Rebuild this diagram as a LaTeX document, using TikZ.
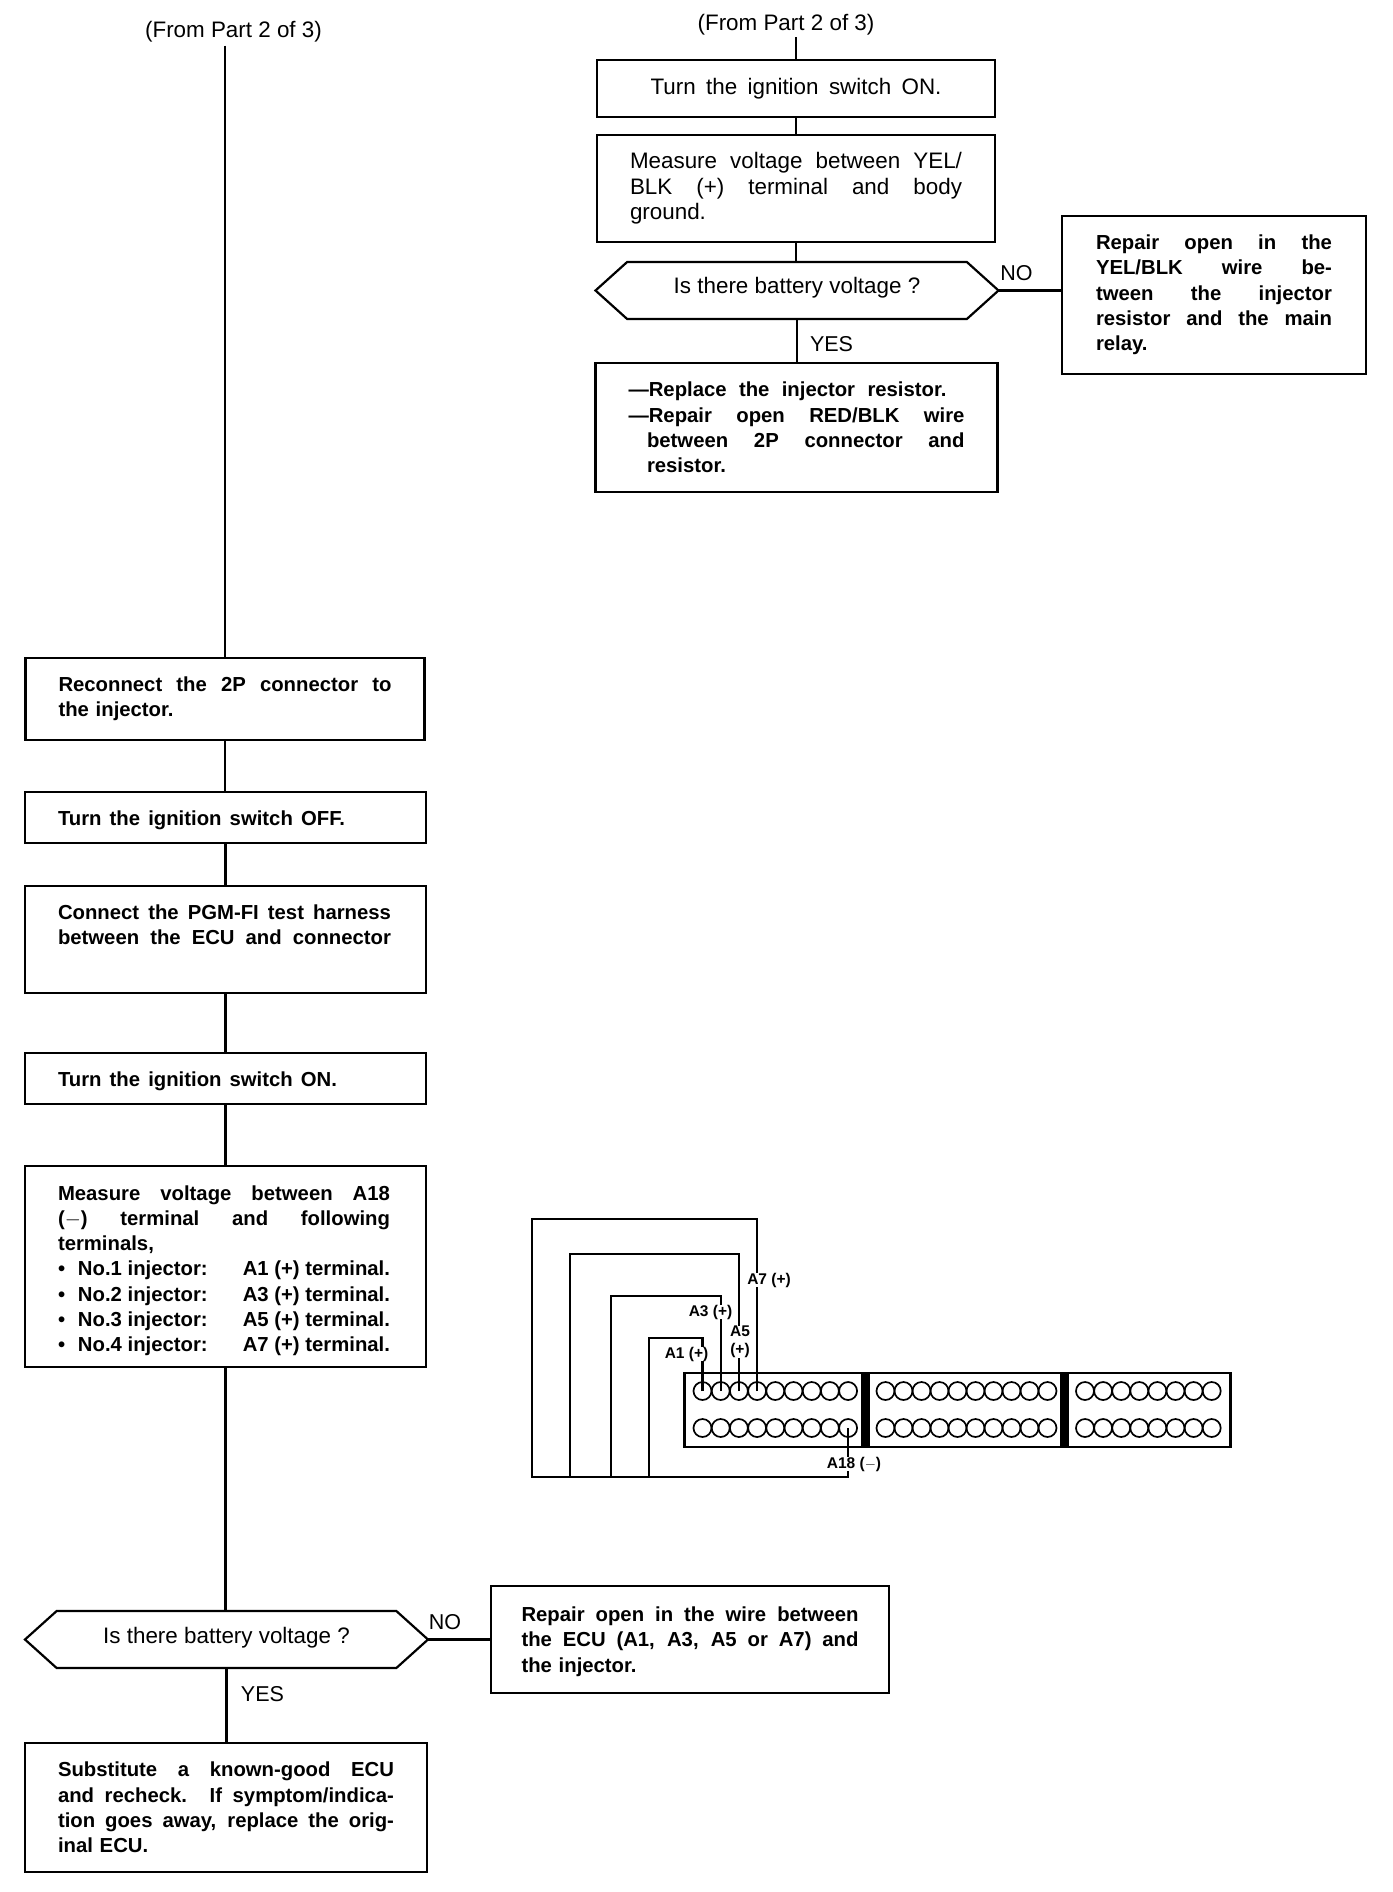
\documentclass[tikz,border=0pt]{standalone}
\usepackage{fontspec}
\setmainfont{Liberation Sans}
\usetikzlibrary{shapes.symbols}
\newcommand\jl[2]{\makebox[#1pt][s]{\spaceskip=0pt\xspaceskip=0pt #2}}
\newcommand\tg[1]{\rule{0pt}{#1pt}}
\tikzset{
  reg/.style={font=\fontsize{22.4}{25.3}\selectfont},
  bld/.style={font=\fontsize{20.3}{25.3}\selectfont\bfseries},
  flowbox/.style={draw=black,line width=2.2pt,inner sep=0pt,outer sep=0pt,fill=white},
  hexa/.style={draw=black,line width=2.2pt,signal,signal to=east and west,signal pointer angle=84,inner sep=0pt,outer sep=0pt,reg,minimum width=403pt,minimum height=57pt},
  link/.style={draw=black,line width=2.2pt},
  tag/.style={inner sep=0pt,font=\fontsize{21.5}{25.3}\selectfont},
  pinlabel/.style={fill=white,inner sep=0pt,font=\fontsize{15.5}{19}\selectfont\bfseries,align=center},
  pinhole/.style={circle,draw=black,line width=1.7pt,minimum size=18pt,inner sep=0pt,outer sep=0pt},
  barblock/.style={fill=black,inner sep=0pt,outer sep=0pt,minimum width=9pt,minimum height=74pt}
}
\begin{document}
\begin{tikzpicture}[x=1pt,y=-1pt]
\useasboundingbox (0,0) rectangle (1392,1892);
% right column
\node[tag,reg] (fromR) at (786,24.5) {(From Part 2 of 3)};
\coordinate (startR) at ([yshift=-2pt]fromR.south);
\node[flowbox,reg,minimum width=398pt,minimum height=57pt] (r1) at (796,88.5) {\jl{291}{Turn the ignition switch ON.}};
\node[flowbox,reg,minimum width=398pt,minimum height=107pt,text width=332pt,align=left] (r2) at (796,188.5) {\jl{332}{Measure voltage between YEL/}\\\jl{332}{BLK (+) terminal and body}\\ground.};
\node[hexa] (r3) at (797,290.5) {\rule[-10pt]{0pt}{26pt}Is there battery voltage ?};
\node[flowbox,bld,minimum width=402pt,minimum height=129pt,text width=336pt,align=left] (r4) at (796.5,427.5) {\jl{318}{---Replace the injector resistor.}\\\jl{336}{---Repair open RED/BLK wire}\\\jl{336}{\hspace{18.5pt}between 2P connector and}\\\hspace{18.5pt}resistor.};
\node[flowbox,bld,minimum width=304pt,minimum height=158pt,text width=236pt,align=left] (r5) at (1214,295) {\jl{236}{Repair open in the}\\\jl{236}{YEL/BLK wire be-}\\\jl{236}{tween the injector}\\\jl{236}{resistor and the main}\\relay.};
\node[tag] (noR) at (1016.5,273) {NO};
\node[tag] (yesR) at (831.5,344) {YES};
\draw[link] (startR -| r1.north) -- (r1.north);
\draw[link] (r1.south) -- (r2.north);
\draw[link] (r2.south) -- (r2.south |- r3.north);
\draw[link] (r3.south) -- (r3.south |- r4.north);
\draw[link] (r3.east) -- (r3.east -| r5.west);
% left column
\node[tag,reg] (fromL) at (233.5,32) {(From Part 2 of 3)};
\coordinate (startL) at ([yshift=-3pt]fromL.south);
\node[flowbox,bld,minimum width=399pt,minimum height=82pt,text width=333pt,align=left] (l1) at (225,699) {\jl{333}{Reconnect the 2P connector to}\\the injector.};
\node[flowbox,bld,minimum width=401pt,minimum height=51pt,text width=335pt,align=left] (l2) at (225.5,817.5) {\tg{20}\jl{287}{Turn the ignition switch OFF.}};
\node[flowbox,bld,minimum width=401pt,minimum height=107pt,text width=335pt,align=left] (l3) at (225.5,939.5) {\jl{333}{Connect the PGM-FI test harness}\\\jl{333}{between the ECU and connector}\\[4.7pt]\mbox{}};
\node[flowbox,bld,minimum width=401pt,minimum height=51pt,text width=335pt,align=left] (l4) at (225.5,1078.5) {\tg{20}\jl{279}{Turn the ignition switch ON.}};
\node[flowbox,bld,minimum width=401pt,minimum height=201pt,text width=335pt,align=left] (l5) at (225.5,1266.5) {\tg{23}\jl{332}{Measure voltage between A18}\\\jl{332}{($-$) terminal and following}\\terminals,\\
\jl{332}{\makebox[20pt][l]{•}No.1 injector:\hfil A1 (+) terminal.}\\
\jl{332}{\makebox[20pt][l]{•}No.2 injector:\hfil A3 (+) terminal.}\\
\jl{332}{\makebox[20pt][l]{•}No.3 injector:\hfil A5 (+) terminal.}\\
\jl{332}{\makebox[20pt][l]{•}No.4 injector:\hfil A7 (+) terminal.}};
\node[hexa] (l6) at (226.5,1639.5) {\rule[-8pt]{0pt}{24pt}Is there battery voltage ?};
\node[flowbox,bld,minimum width=398pt,minimum height=107pt,text width=337pt,align=left] (l7) at (690,1639.5) {\tg{19}\jl{337}{Repair open in the wire between}\\\jl{337}{the ECU (A1, A3, A5 or A7) and}\\the injector.};
\node[flowbox,bld,minimum width=402pt,minimum height=129pt,text width=336pt,align=left] (l8) at (226,1807.5) {\jl{336}{Substitute a known-good ECU}\\\jl{336}{and recheck. If symptom/indica-}\\\jl{336}{tion goes away, replace the orig-}\\inal ECU.};
\node[tag] (noL) at (445,1622) {NO};
\node[tag] (yesL) at (262.5,1694) {YES};
\draw[link] (startL -| l1.north) -- (l1.north);
\draw[link] (l1.south) -- (l1.south |- l2.north);
\draw[link] (l2.south) -- (l2.south |- l3.north);
\draw[link] (l3.south) -- (l3.south |- l4.north);
\draw[link] (l4.south) -- (l4.south |- l5.north);
\draw[link] (l5.south) -- (l5.south |- l6.north);
\draw[link] (l6.south) -- (l6.south |- l8.north);
\draw[link] (l6.east) -- (l6.east -| l7.west);
% connector block
\node[draw=black,line width=2.4pt,inner sep=0pt,outer sep=0pt,minimum width=546pt,minimum height=74pt] (block) at (957.5,1410) {};
\node[barblock] (bar1) at (865.5,1410) {};
\node[barblock] (bar2) at (1064.5,1410) {};
\foreach \i in {0,...,8}{
  \node[pinhole] (ta\i) at ({702.5+18.2*\i},1391) {};
  \node[pinhole] (ba\i) at ({702.5+18.2*\i},1428) {};
}
\foreach \i in {0,...,9}{
  \node[pinhole] (tb\i) at ({885.5+18*\i},1391) {};
  \node[pinhole] (bb\i) at ({885.5+18*\i},1428) {};
}
\foreach \i in {0,...,7}{
  \node[pinhole] (tc\i) at ({1085+18.1*\i},1391) {};
  \node[pinhole] (bc\i) at ({1085+18.1*\i},1428) {};
}
% wires
\coordinate (bus) at (532,1477);
\coordinate (w7) at (532,1219);
\coordinate (w5) at (570,1254);
\coordinate (w3) at (611,1296);
\coordinate (w1) at (649,1338);
\draw[link,line join=miter] (ta3.center) -- (ta3.center |- w7) -- (w7) -- (bus) -- (bus -| ba8.center) -- (ba8.center);
\draw[link] (ta2.center) -- (ta2.center |- w5) -- (w5) -- (w5 |- bus);
\draw[link] (ta1.center) -- (ta1.center |- w3) -- (w3) -- (w3 |- bus);
\draw[link] (ta0.center) -- (ta0.center |- w1) -- (w1) -- (w1 |- bus);
\node[pinlabel] (a7) at (769,1280) {A7 (+)};
\node[pinlabel] (a5) at (740,1342) {A5\\[-1pt](+)};
\node[pinlabel] (a3) at (710.5,1312) {A3 (+)};
\node[pinlabel] (a1) at (686.5,1354) {A1 (+)};
\node[pinlabel] (a18) at (854,1464) {A18 ($-$)};
\end{tikzpicture}
\end{document}
